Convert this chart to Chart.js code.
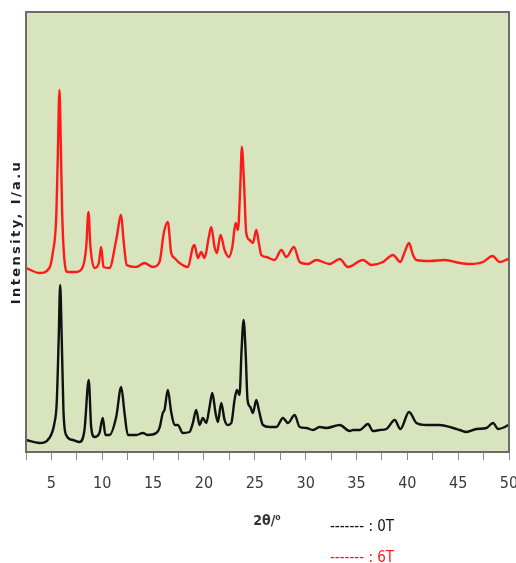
<!DOCTYPE html>
<html><head><meta charset="utf-8">
<script src="https://cdn.jsdelivr.net/npm/chart.js@4/dist/chart.umd.min.js"></script>
<style>html,body{margin:0;padding:0;background:#fff;}#wrap{width:516px;height:563px;position:relative;overflow:hidden;}</style>
</head><body><div id="wrap"><canvas id="c" width="516" height="563"></canvas></div>
<script>
// 2θ (degrees) and intensity (a.u.)
const x0T = [2.51,3.82,4.80,5.30,5.52,5.72,5.86,6.01,6.18,6.45,7.10,7.76,8.25,8.67,8.91,9.23,9.72,10.05,10.31,10.71,11.37,11.86,12.19,12.51,13.34,13.99,14.48,15.31,15.63,15.95,16.12,16.45,16.78,17.11,17.43,17.92,18.58,18.91,19.24,19.57,19.89,20.23,20.55,20.82,21.14,21.37,21.70,22.03,22.35,22.69,23.01,23.24,23.50,23.70,23.90,24.09,24.29,24.56,24.81,25.15,25.40,25.80,26.46,27.12,27.77,28.26,28.92,29.41,30.07,30.72,31.38,32.04,33.35,34.33,34.66,35.31,36.13,36.62,37.28,37.94,38.76,39.32,40.17,40.90,41.88,43.19,44.50,45.16,45.82,46.80,47.78,48.43,48.93,49.59,49.91];
const y0T = [12,9,14,29,49,115,167,115,42,17,12,10,22,72,25,15,19,34,17,17,35,65,39,17,17,19,17,19,24,39,42,62,40,27,27,19,20,29,42,27,34,29,45,59,39,30,49,32,27,29,52,62,57,102,132,102,52,45,39,52,42,27,25,25,34,29,37,25,24,22,25,24,27,21,22,22,28,21,22,23,32,23,40,29,27,27,24,22,20,23,24,29,23,25,27];
const x6T = [2.51,3.82,4.80,5.13,5.46,5.62,5.79,5.92,6.05,6.28,6.60,7.43,8.08,8.42,8.64,8.84,9.23,9.66,9.89,10.12,10.71,11.37,11.86,12.09,12.41,13.34,14.15,14.97,15.63,16.05,16.45,16.78,17.11,17.60,18.42,18.91,19.07,19.40,19.73,20.06,20.48,20.72,21.04,21.27,21.63,22.03,22.45,22.79,23.11,23.34,23.57,23.73,23.93,24.16,24.49,24.81,25.15,25.40,25.64,26.13,26.95,27.61,28.10,28.85,29.41,30.23,31.05,32.36,33.35,34.16,35.64,36.47,37.61,38.59,39.32,39.74,40.17,40.56,40.90,42.20,43.68,45.16,46.14,47.45,48.38,49.09,49.91];
const y6T = [184,179,184,199,232,292,362,309,242,192,180,180,185,205,240,205,184,189,205,185,184,212,237,212,187,185,189,185,190,219,230,199,194,189,185,205,207,194,200,194,215,225,205,199,217,202,195,205,229,222,265,305,272,219,212,209,222,209,197,195,192,202,195,205,190,188,192,188,193,185,192,187,190,197,190,200,209,197,192,191,192,189,188,190,196,190,193];
const xTicks = [5,10,15,20,25,30,35,40,45,50];
const seriesNames = ['0T','6T'];
const xTitle = '2θ/⁰';
const yTitle = 'Intensity, I/a.u';

const pts = (xs, ys) => xs.map((x, i) => ({x: x, y: ys[i]}));
const NARROW = '"Liberation Sans Narrow", "DejaVu Sans Condensed", sans-serif';

const deco = {
  id: 'deco',
  beforeDraw(chart) {
    const {ctx, chartArea: a} = chart;
    ctx.save();
    ctx.fillStyle = '#d8e4bd';
    ctx.fillRect(a.left, a.top, a.right - a.left, a.bottom - a.top);
    ctx.restore();
  },
  afterDraw(chart) {
    const {ctx, chartArea: a} = chart;
    ctx.save();
    ctx.strokeStyle = '#6b6b6b';
    ctx.lineWidth = 2;
    ctx.strokeRect(a.left, a.top, a.right - a.left, a.bottom - a.top);
    // y title
    ctx.translate(17, (a.top + a.bottom) / 2);
    ctx.rotate(-Math.PI / 2);
    ctx.font = 'bold 13px "DejaVu Sans"';
    const w = ctx.measureText(yTitle).width;
    ctx.letterSpacing = Math.max(0, (142 - w) / 15) + 'px';
    ctx.fillStyle = '#1e1e1e';
    ctx.textAlign = 'center';
    ctx.textBaseline = 'middle';
    ctx.fillText(yTitle, 0, 0);
    ctx.restore();
    ctx.save();
    ctx.textBaseline = 'middle';
    ctx.textAlign = 'center';
    ctx.fillStyle = '#333';
    ctx.font = 'bold 14px ' + NARROW;
    ctx.fillText(xTitle, 267, 521);
    ctx.textAlign = 'left';
    ctx.font = '15px ' + NARROW;
    const cols = ['#111', '#ff1a1a'];
    seriesNames.forEach((n, i) => {
      ctx.fillStyle = cols[i];
      ctx.fillText('------- : ' + n, 330, 527 + i * 31);
    });
    ctx.restore();
  }
};

new Chart(document.getElementById('c'), {
  type: 'line',
  data: {
    datasets: [
      {label: seriesNames[0], data: pts(x0T, y0T), borderColor: '#111', borderWidth: 2.4, pointRadius: 0, cubicInterpolationMode: 'monotone'},
      {label: seriesNames[1], data: pts(x6T, y6T), borderColor: '#ff1a1a', borderWidth: 2.4, pointRadius: 0, cubicInterpolationMode: 'monotone'}
    ]
  },
  options: {
    responsive: false,
    animation: false,
    layout: {padding: {left: 26, right: 7, top: 12, bottom: 0}},
    plugins: {legend: {display: false}, tooltip: {enabled: false}},
    scales: {
      x: {
        type: 'linear', min: 2.5, max: 50,
        afterFit(s) { s.height = 111; s.paddingLeft = 0; s.paddingRight = 0; },
        afterBuildTicks(s) {
          const t = [];
          for (let v = 2.5; v <= 50.001; v += 2.5) t.push({value: v});
          s.ticks = t;
        },
        ticks: {
          autoSkip: false, maxRotation: 0, padding: 14,
          color: '#3a3a3a',
          font: {family: NARROW, size: 16},
          callback: v => xTicks.includes(Math.round(v * 10) / 10) ? String(Math.round(v)) : ''
        },
        grid: {drawOnChartArea: false, drawTicks: true, tickLength: 8, color: '#8a8a8a'},
        border: {display: false}
      },
      y: {min: 0, max: 440, display: false}
    }
  },
  plugins: [deco]
});
</script></body></html>
